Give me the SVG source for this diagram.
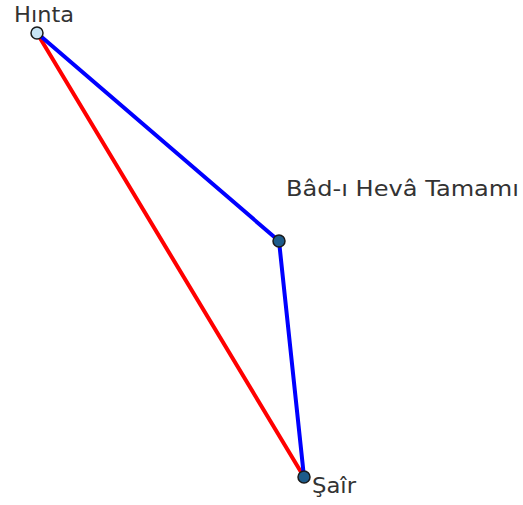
<svg xmlns="http://www.w3.org/2000/svg" width="523" height="505" viewBox="0 0 523 505">
<style>
.lbl{font-family:"DejaVu Sans",sans-serif;font-size:22px;fill:#333}
.pt{stroke:#1a1a1a;stroke-width:1.5}
.seg{stroke-width:4;stroke-linecap:round;fill:none}
</style>
<rect width="523" height="505" fill="#fff"/>
<g id="connectors">
<line class="seg" x1="37" y1="33" x2="304" y2="477" stroke="#ff0000"/>
<line class="seg" x1="37" y1="33" x2="279" y2="241" stroke="#0000ff"/>
<line class="seg" x1="279" y1="241" x2="304" y2="477" stroke="#0000ff"/>
</g>
<g id="hinta">
<circle class="pt" cx="37" cy="33" r="6" fill="#c8e4f4"/>
<text class="lbl" x="14" y="22" textLength="60" lengthAdjust="spacingAndGlyphs">Hınta</text>
</g>
<g id="bad">
<circle class="pt" cx="279" cy="241" r="6" fill="#1d5b8a"/>
<text class="lbl" x="286" y="196" textLength="233" lengthAdjust="spacingAndGlyphs">Bâd-ı Hevâ Tamamı</text>
</g>
<g id="sair">
<circle class="pt" cx="304" cy="477" r="6" fill="#1d5b8a"/>
<text class="lbl" x="312" y="493" textLength="44" lengthAdjust="spacingAndGlyphs">Şaîr</text>
</g>
</svg>
